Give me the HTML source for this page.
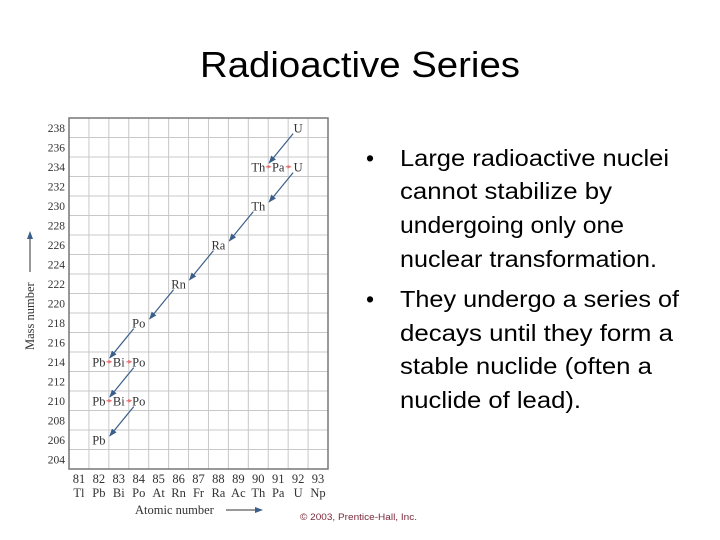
<!DOCTYPE html>
<html><head><meta charset="utf-8"><style>
html,body{margin:0;padding:0;background:#fff;}
svg{display:block;}
</style></head><body>
<svg width="720" height="540" viewBox="0 0 720 540" xmlns="http://www.w3.org/2000/svg">
<text x="200" y="77" font-family="Liberation Sans, sans-serif" font-size="36" textLength="320" lengthAdjust="spacingAndGlyphs" fill="#000">Radioactive Series</text>
<g font-family="Liberation Sans, sans-serif" font-size="23" fill="#000">
<text x="366" y="166">•</text>
<text x="400" y="166" textLength="269" lengthAdjust="spacingAndGlyphs">Large radioactive nuclei</text>
<text x="400" y="199" textLength="212" lengthAdjust="spacingAndGlyphs">cannot stabilize by</text>
<text x="400" y="233" textLength="224" lengthAdjust="spacingAndGlyphs">undergoing only one</text>
<text x="400" y="267" textLength="257" lengthAdjust="spacingAndGlyphs">nuclear transformation.</text>
<text x="366" y="307">•</text>
<text x="400" y="307" textLength="279" lengthAdjust="spacingAndGlyphs">They undergo a series of</text>
<text x="400" y="341" textLength="273" lengthAdjust="spacingAndGlyphs">decays until they form a</text>
<text x="400" y="374" textLength="252" lengthAdjust="spacingAndGlyphs">stable nuclide (often a</text>
<text x="400" y="408" textLength="181" lengthAdjust="spacingAndGlyphs">nuclide of lead).</text>
</g>
<text x="300" y="520" font-family="Liberation Sans, sans-serif" font-size="9" fill="#7a2a3a" textLength="117" lengthAdjust="spacingAndGlyphs">© 2003, Prentice-Hall, Inc.</text>
<g id="chart"></g>
</svg>
<script>
const zValues = [81,82,83,84,85,86,87,88,89,90,91,92,93];
const zSymbols = ["Tl","Pb","Bi","Po","At","Rn","Fr","Ra","Ac","Th","Pa","U","Np"];
const massTicks = [238,236,234,232,230,228,226,224,222,220,218,216,214,212,210,208,206,204];
const nuclideZ = [92,90,91,92,90,88,86,84,82,83,84,82,83,84,82];
const nuclideA = [238,234,234,234,230,226,222,218,214,214,214,210,210,210,206];
const nuclideLabels = ["U","Th","Pa","U","Th","Ra","Rn","Po","Pb","Bi","Po","Pb","Bi","Po","Pb"];
const alphaZ = [92,92,90,88,86,84,84,84];
const alphaA = [238,234,230,226,222,218,214,210];
const betaZ = [90,91,82,83,82,83];
const betaA = [234,234,214,214,210,210];

const NS = "http://www.w3.org/2000/svg";
const L = 69, R = 328, T = 118, B = 469;
const zMin = 80.5, zMax = 93.5, aMin = 203, aMax = 239;
function xs(z){ return L + (z - zMin) / (zMax - zMin) * (R - L); }
function ys(a){ return T + (aMax - a) / (aMax - aMin) * (B - T); }
const g = document.getElementById('chart');
function mk(tag, attrs, parent){ const e = document.createElementNS(NS, tag); for (const k in attrs) e.setAttribute(k, attrs[k]); (parent||g).appendChild(e); return e; }

const defs = mk('defs', {});
const m1 = mk('marker', {id:'ah', markerWidth:8, markerHeight:6, refX:7, refY:3, orient:'auto', markerUnits:'userSpaceOnUse'}, defs);
mk('path', {d:'M0,0 L8,3 L0,6 Z', fill:'#3b5f8a'}, m1);
const m2 = mk('marker', {id:'rh', markerWidth:4, markerHeight:4, refX:3, refY:2, orient:'auto', markerUnits:'userSpaceOnUse'}, defs);
mk('path', {d:'M0,0 L4,2 L0,4 Z', fill:'#e57373'}, m2);

// grid
const grid = mk('g', {stroke:'#c8c8c8', 'stroke-width':1});


zValues.forEach(z => { if (z > zValues[0]) mk('line', {x1:xs(z-0.5), x2:xs(z-0.5), y1:T, y2:B}, grid); });
massTicks.forEach(a => { mk('line', {x1:L, x2:R, y1:ys(a-1), y2:ys(a-1)}, grid); });
const frame = mk('rect', {x:L, y:T, width:R-L, height:B-T, fill:'none', stroke:'#777', 'stroke-width':1.5});



// y ticks
massTicks.forEach(a => {
  const t = mk('text', {x:65, y:ys(a)+4, 'text-anchor':'end', 'font-family':'Liberation Serif, serif', 'font-size':11.5, fill:'#333'});
  t.textContent = a;
  
  
});
// x ticks
zValues.forEach((z, i) => {
  const t = mk('text', {x:xs(z), y:483, 'text-anchor':'middle', 'font-family':'Liberation Serif, serif', 'font-size':12.5, fill:'#333'});
  t.textContent = z;
  
  
  const s = mk('text', {x:xs(z), y:497, 'text-anchor':'middle', 'font-family':'Liberation Serif, serif', 'font-size':12.5, fill:'#333'});
  s.textContent = zSymbols[i];
  
  
});
// axis titles
const xt = mk('text', {x:135, y:514, 'font-family':'Liberation Serif, serif', 'font-size':12.5, fill:'#333'});
xt.textContent = 'Atomic number';


const xa = mk('line', {x1:226, y1:510, x2:262, y2:510, stroke:'#333', 'stroke-width':1, 'marker-end':'url(#ah)'});


const yt = mk('text', {x:0, y:0, 'font-family':'Liberation Serif, serif', 'font-size':12.5, fill:'#333', transform:'translate(34,350) rotate(-90)'});
yt.textContent = 'Mass number';


const ya = mk('line', {x1:30, y1:272, x2:30, y2:232, stroke:'#333', 'stroke-width':1, 'marker-end':'url(#ah)'});



// alpha arrows
alphaZ.forEach((z, i) => {
  const a = alphaA[i];
  const l = mk('line', {x1:xs(z-0.25), y1:ys(a-0.6), x2:xs(z-1.45), y2:ys(a-3.6), stroke:'#3b5f8a', 'stroke-width':1.2, 'marker-end':'url(#ah)'});
  
  
});
// beta arrows
betaZ.forEach((z, i) => {
  const a = betaA[i];
  const l = mk('line', {x1:xs(z+0.38), y1:ys(a), x2:xs(z+0.62), y2:ys(a), stroke:'#e57373', 'stroke-width':1.2, 'marker-end':'url(#rh)'});
  
  
});
// nuclide labels
nuclideZ.forEach((z, i) => {
  const a = nuclideA[i];
  const t = mk('text', {x:xs(z), y:ys(a)+4.5, 'text-anchor':'middle', 'font-family':'Liberation Serif, serif', 'font-size':12.5, fill:'#333'});
  t.textContent = nuclideLabels[i];
  
  
});
</script>
</body></html>
